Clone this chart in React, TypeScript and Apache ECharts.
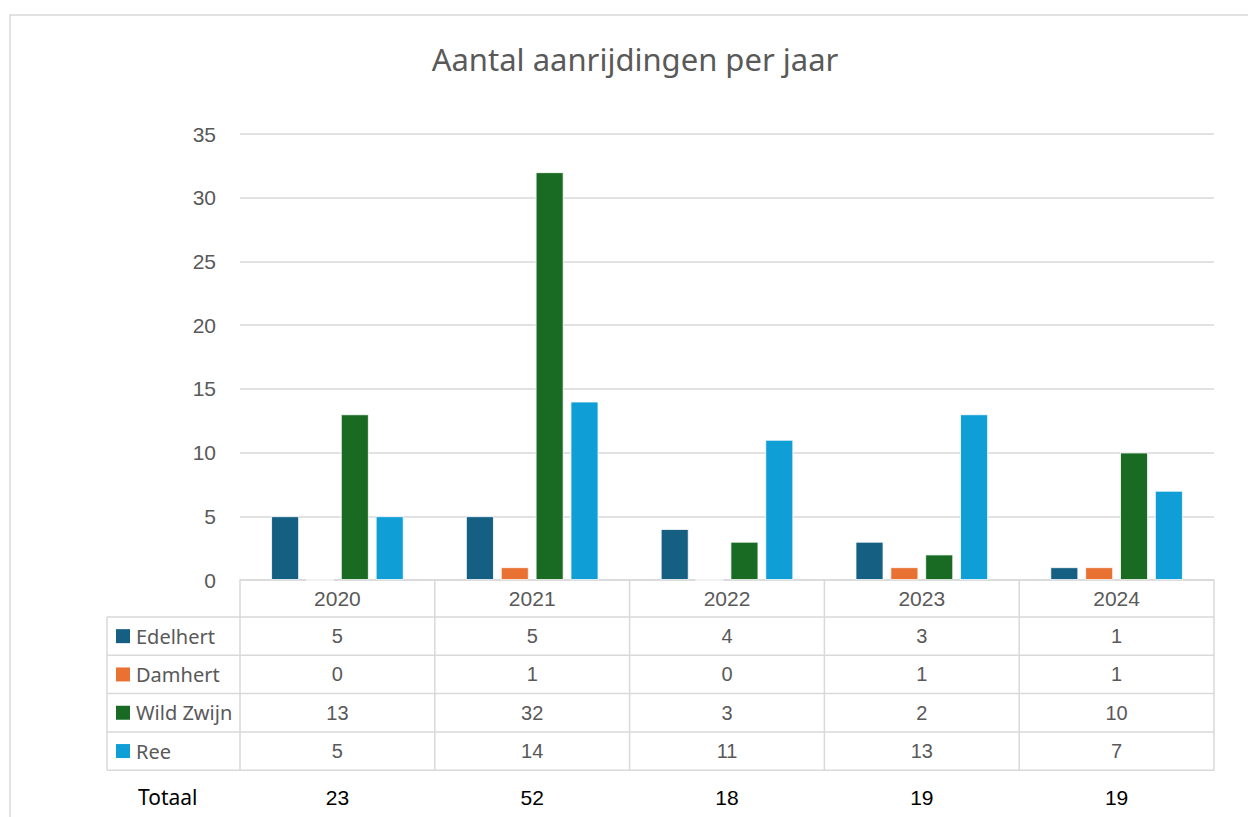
import React, { useEffect, useRef } from "react";
import * as echarts from "echarts";

const years = ["2020", "2021", "2022", "2023", "2024"];
const seriesNames = ["Edelhert", "Damhert", "Wild Zwijn", "Ree"];
const edelhert = [5, 5, 4, 3, 1];
const damhert = [0, 1, 0, 1, 1];
const wildZwijn = [13, 32, 3, 2, 10];
const ree = [5, 14, 11, 13, 7];
const totals = [23, 52, 18, 19, 19];
const colors = ["#156082", "#E97132", "#196B24", "#0F9ED5"];

const W = 1248;
const H = 817;
const GL = 240;
const GR = 1214;
const GT = 134;
const GB = 580;
const ROW_H = 38.3;
const HEADER_BOTTOM = 617;
const TABLE_LEFT = 107;
const GRID_COLOR = "#d9d9d9";
const TEXT = "#595959";
const FONT = "'Liberation Sans', Arial, sans-serif";
const FONT2 = "'Noto Sans', 'Open Sans', sans-serif";

export default function App() {
  const ref = useRef<HTMLDivElement>(null);
  useEffect(() => {
    if (!ref.current) return;
    const chart = echarts.init(ref.current, null, { renderer: "svg" });
    const values = [edelhert, damhert, wildZwijn, ree];
    const colW = (GR - GL) / years.length;
    const graphics: any[] = [];
    graphics.push({
      type: "rect",
      shape: { x: 10, y: 15, width: 1300, height: 900 },
      style: { fill: "none", stroke: GRID_COLOR, lineWidth: 1.5 },
      silent: true,
    });
    const line = (x1: number, y1: number, x2: number, y2: number) => ({
      type: "line",
      shape: { x1, y1, x2, y2 },
      style: { stroke: GRID_COLOR, lineWidth: 1.5 },
      silent: true,
    });
    const rowsBottom = HEADER_BOTTOM + ROW_H * seriesNames.length;
    for (let i = 0; i <= years.length; i++) {
      const x = GL + i * colW;
      graphics.push(line(x, GB, x, rowsBottom));
    }
    graphics.push(line(TABLE_LEFT, HEADER_BOTTOM, TABLE_LEFT, rowsBottom));
    for (let r = 0; r <= seriesNames.length; r++) {
      const y = HEADER_BOTTOM + r * ROW_H;
      graphics.push(line(TABLE_LEFT, y, GR, y));
    }
    seriesNames.forEach((name, r) => {
      const cy = HEADER_BOTTOM + r * ROW_H + ROW_H / 2;
      graphics.push({
        type: "rect",
        shape: { x: 116, y: cy - 7, width: 14, height: 14 },
        style: { fill: colors[r] },
        silent: true,
      });
      graphics.push({
        type: "text",
        x: 136,
        y: cy,
        style: {
          text: name,
          fill: TEXT,
          font: `20px ${FONT2}`,
          textVerticalAlign: "middle",
          textAlign: "left",
        },
        silent: true,
      });
      values[r].forEach((v, c) => {
        graphics.push({
          type: "text",
          x: GL + (c + 0.5) * colW,
          y: cy,
          style: {
            text: String(v),
            fill: TEXT,
            font: `20px ${FONT}`,
            textVerticalAlign: "middle",
            textAlign: "center",
          },
          silent: true,
        });
      });
    });
    const totY = 797;
    graphics.push({
      type: "text",
      x: 138,
      y: totY,
      style: {
        text: "Totaal",
        fill: "#000",
        font: `21px ${FONT2}`,
        textVerticalAlign: "middle",
        textAlign: "left",
      },
      silent: true,
    });
    totals.forEach((t, c) => {
      graphics.push({
        type: "text",
        x: GL + (c + 0.5) * colW,
        y: totY,
        style: {
          text: String(t),
          fill: "#000",
          font: `21px ${FONT}`,
          textVerticalAlign: "middle",
          textAlign: "center",
        },
        silent: true,
      });
    });

    chart.setOption({
      animation: false,
      backgroundColor: "#fff",
      title: {
        text: "Aantal aanrijdingen per jaar",
        left: 630,
        textAlign: "center",
        top: 38,
        textStyle: { color: TEXT, fontSize: 31, fontWeight: "normal", fontFamily: FONT2 },
      },
      grid: { left: GL, right: W - GR, top: GT, bottom: H - GB },
      xAxis: {
        type: "category",
        data: years,
        axisLine: { show: true, lineStyle: { color: GRID_COLOR, width: 1.5 } },
        axisTick: { show: false },
        axisLabel: { color: TEXT, fontSize: 21, fontFamily: FONT, margin: 8 },
      },
      yAxis: {
        type: "value",
        min: 0,
        max: 35,
        interval: 5,
        axisLine: { show: false },
        axisTick: { show: false },
        axisLabel: { color: TEXT, fontSize: 21, fontFamily: FONT, margin: 24 },
        splitLine: { lineStyle: { color: GRID_COLOR, width: 1.5 } },
      },
      series: seriesNames.map((name, i) => ({
        name,
        type: "bar",
        data: values[i],
        barGap: "25%",
        barCategoryGap: "32%",
        itemStyle: { color: colors[i], borderColor: "#fff", borderWidth: 0.8 },
      })),
      graphic: graphics,
    });
    return () => chart.dispose();
  }, []);
  return (
    <div
      ref={ref}
      style={{ position: "absolute", left: 0, top: 0, width: W, height: H }}
    />
  );
}
